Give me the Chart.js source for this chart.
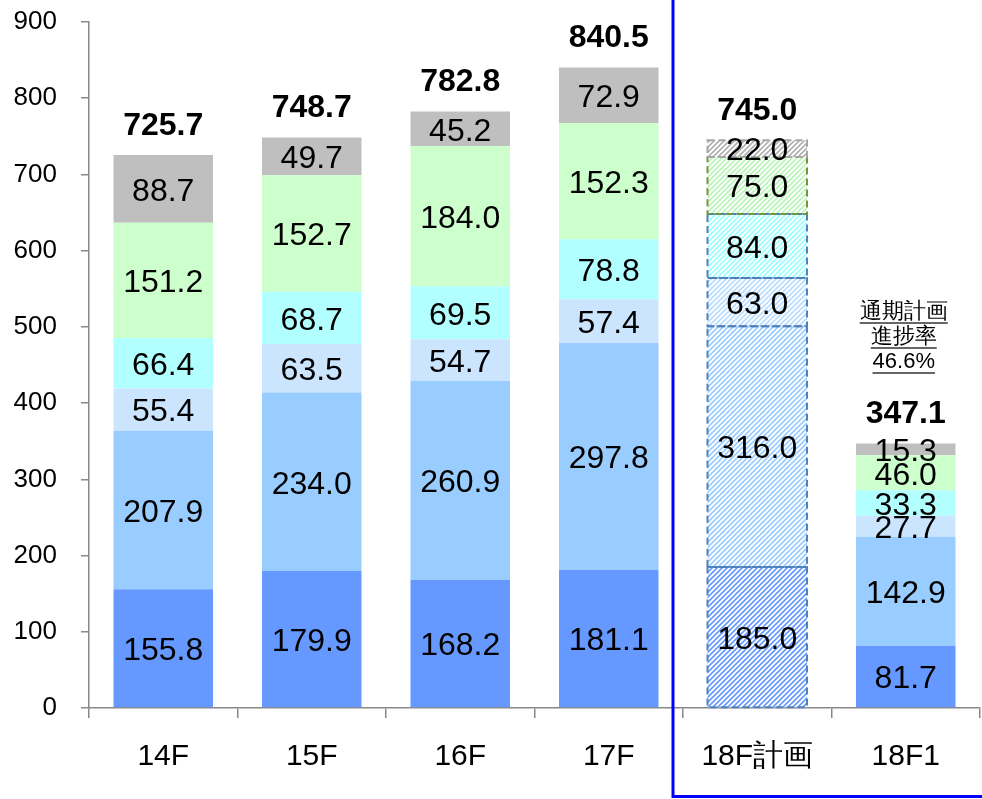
<!DOCTYPE html>
<html>
<head>
<meta charset="utf-8">
<script src="https://cdn.jsdelivr.net/npm/chart.js@4/dist/chart.umd.min.js"></script>
<style>
  html, body { margin: 0; padding: 0; background: #fff; }
  #wrap { width: 982px; height: 799px; }
</style>
</head>
<body>
<div id="wrap"><canvas id="chart" width="982" height="799"></canvas></div>
<script>
// data (bottom segment first)
const categories = ['14F', '15F', '16F', '17F', '18F計画', '18F1'];
const seg1 = [155.8, 179.9, 168.2, 181.1, 185.0, 81.7];
const seg2 = [207.9, 234.0, 260.9, 297.8, 316.0, 142.9];
const seg3 = [55.4, 63.5, 54.7, 57.4, 63.0, 27.7];
const seg4 = [66.4, 68.7, 69.5, 78.8, 84.0, 33.3];
const seg5 = [151.2, 152.7, 184.0, 152.3, 75.0, 46.0];
const seg6 = [88.7, 49.7, 45.2, 72.9, 22.0, 15.3];
const totals = [725.7, 748.7, 782.8, 840.5, 745.0, 347.1];
const yTicks = [0, 100, 200, 300, 400, 500, 600, 700, 800, 900];
const planIndex = 4; // the hatched plan column
const noteLines = ['通期計画', '進捗率', '46.6%'];

const FONT = '"Liberation Sans", Arial, sans-serif';
const fills = ['#6699FF', '#99CCFF', '#CCE5FF', '#B2FFFF', '#CCFFCC', '#BFBFBF'];
const stripes = ['#6699FF', '#99CCFF', '#B8DCFF', '#99FFFF', '#B8F5B8', '#B0B0B0'];
const dashColors = ['#4F81BD', '#4F81BD', '#4F81BD', '#4F81BD', '#77933C', '#A6A6A6'];

function hatch(color) {
  const s = 5;
  const c = document.createElement('canvas');
  c.width = s; c.height = s;
  const g = c.getContext('2d');
  g.fillStyle = '#fff';
  g.fillRect(0, 0, s, s);
  g.strokeStyle = color;
  g.lineWidth = 1.6;
  g.beginPath();
  g.moveTo(-1, s + 1); g.lineTo(s + 1, -1);
  g.moveTo(-1, 1); g.lineTo(1, -1);
  g.moveTo(s - 1, s + 1); g.lineTo(s + 1, s - 1);
  g.stroke();
  return g.createPattern(c, 'repeat');
}

const series = [seg1, seg2, seg3, seg4, seg5, seg6];
const datasets = series.map((vals, k) => ({
  data: vals,
  backgroundColor: vals.map((v, i) => i === planIndex ? hatch(stripes[k]) : fills[k]),
  borderWidth: 0,
  categoryPercentage: 1,
  barPercentage: 0.67
}));

const labelPlugin = {
  id: 'labels',
  afterDatasetsDraw(chart) {
    const ctx = chart.ctx;
    ctx.save();
    // dashed outlines of the plan column
    chart.data.datasets.forEach((ds, k) => {
      const el = chart.getDatasetMeta(k).data[planIndex];
      const p = el.getProps(['x', 'y', 'base', 'width'], true);
      ctx.setLineDash([7, 4]);
      ctx.lineWidth = 2;
      ctx.strokeStyle = dashColors[k];
      ctx.strokeRect(p.x - p.width / 2, p.y, p.width, p.base - p.y);
    });
    ctx.setLineDash([]);
    // value labels inside segments
    ctx.fillStyle = '#000';
    ctx.textAlign = 'center';
    ctx.textBaseline = 'middle';
    ctx.font = '32px ' + FONT;
    chart.data.datasets.forEach((ds, k) => {
      chart.getDatasetMeta(k).data.forEach((el, i) => {
        const p = el.getProps(['x', 'y', 'base'], true);
        ctx.fillText(ds.data[i].toFixed(1), p.x, (p.y + p.base) / 2 + 3);
      });
    });
    // totals above bars
    ctx.font = 'bold 32px ' + FONT;
    const top = chart.getDatasetMeta(chart.data.datasets.length - 1).data;
    top.forEach((el, i) => {
      ctx.fillText(totals[i].toFixed(1), el.x, el.y - 29);
    });
    // progress note beside the last column
    const xs = chart.scales.x;
    const nx = xs.getPixelForValue(5) - 2;
    const ys = chart.scales.y;
    let ny = ys.getPixelForValue(522) + 2;
    ctx.font = '22px ' + FONT;
    ctx.lineWidth = 1.5;
    ctx.strokeStyle = '#333';
    noteLines.forEach(t => {
      ctx.fillText(t, nx, ny);
      const w = ctx.measureText(t).width;
      ctx.beginPath();
      ctx.moveTo(nx - w / 2, ny + 11);
      ctx.lineTo(nx + w / 2, ny + 11);
      ctx.stroke();
      ny += 25;
    });
    ctx.restore();
  },
  afterDraw(chart) {
    // blue frame around the 2018 columns
    const ctx = chart.ctx;
    const xs = chart.scales.x;
    const left = (xs.getPixelForValue(3) + xs.getPixelForValue(4)) / 2 - 10;
    ctx.save();
    ctx.strokeStyle = '#0000FF';
    ctx.lineWidth = 3;
    ctx.beginPath();
    ctx.moveTo(left, 0);
    ctx.lineTo(left, chart.height - 2.5);
    ctx.lineTo(chart.width + 2, chart.height - 2.5);
    ctx.stroke();
    ctx.restore();
  }
};

new Chart(document.getElementById('chart'), {
  type: 'bar',
  data: { labels: categories, datasets: datasets },
  options: {
    responsive: false,
    animation: false,
    devicePixelRatio: 1,
    layout: { padding: { top: 22, right: 2, left: 0, bottom: 0 } },
    plugins: { legend: { display: false }, tooltip: { enabled: false } },
    scales: {
      x: {
        stacked: true,
        grid: { drawOnChartArea: false, drawTicks: true, tickLength: 10, color: '#888', lineWidth: 1.5 },
        border: { color: '#888', width: 1.5 },
        ticks: { color: '#000', font: { family: FONT, size: 30 }, padding: 21, maxRotation: 0 },
        afterFit: s => { s.height = 91; s.paddingLeft = 0; s.paddingRight = 0; }
      },
      y: {
        stacked: true,
        min: 0,
        max: 900,
        afterBuildTicks: s => { s.ticks = yTicks.map(v => ({ value: v })); },
        grid: { drawOnChartArea: false, drawTicks: true, tickLength: 8, color: '#888', lineWidth: 1.5 },
        border: { color: '#888', width: 1.5 },
        ticks: { color: '#000', font: { family: FONT, size: 26 }, padding: 24 },
        afterFit: s => { s.width = 89; s.paddingTop = 0; s.paddingBottom = 0; }
      }
    }
  },
  plugins: [labelPlugin]
});
</script>
</body>
</html>
